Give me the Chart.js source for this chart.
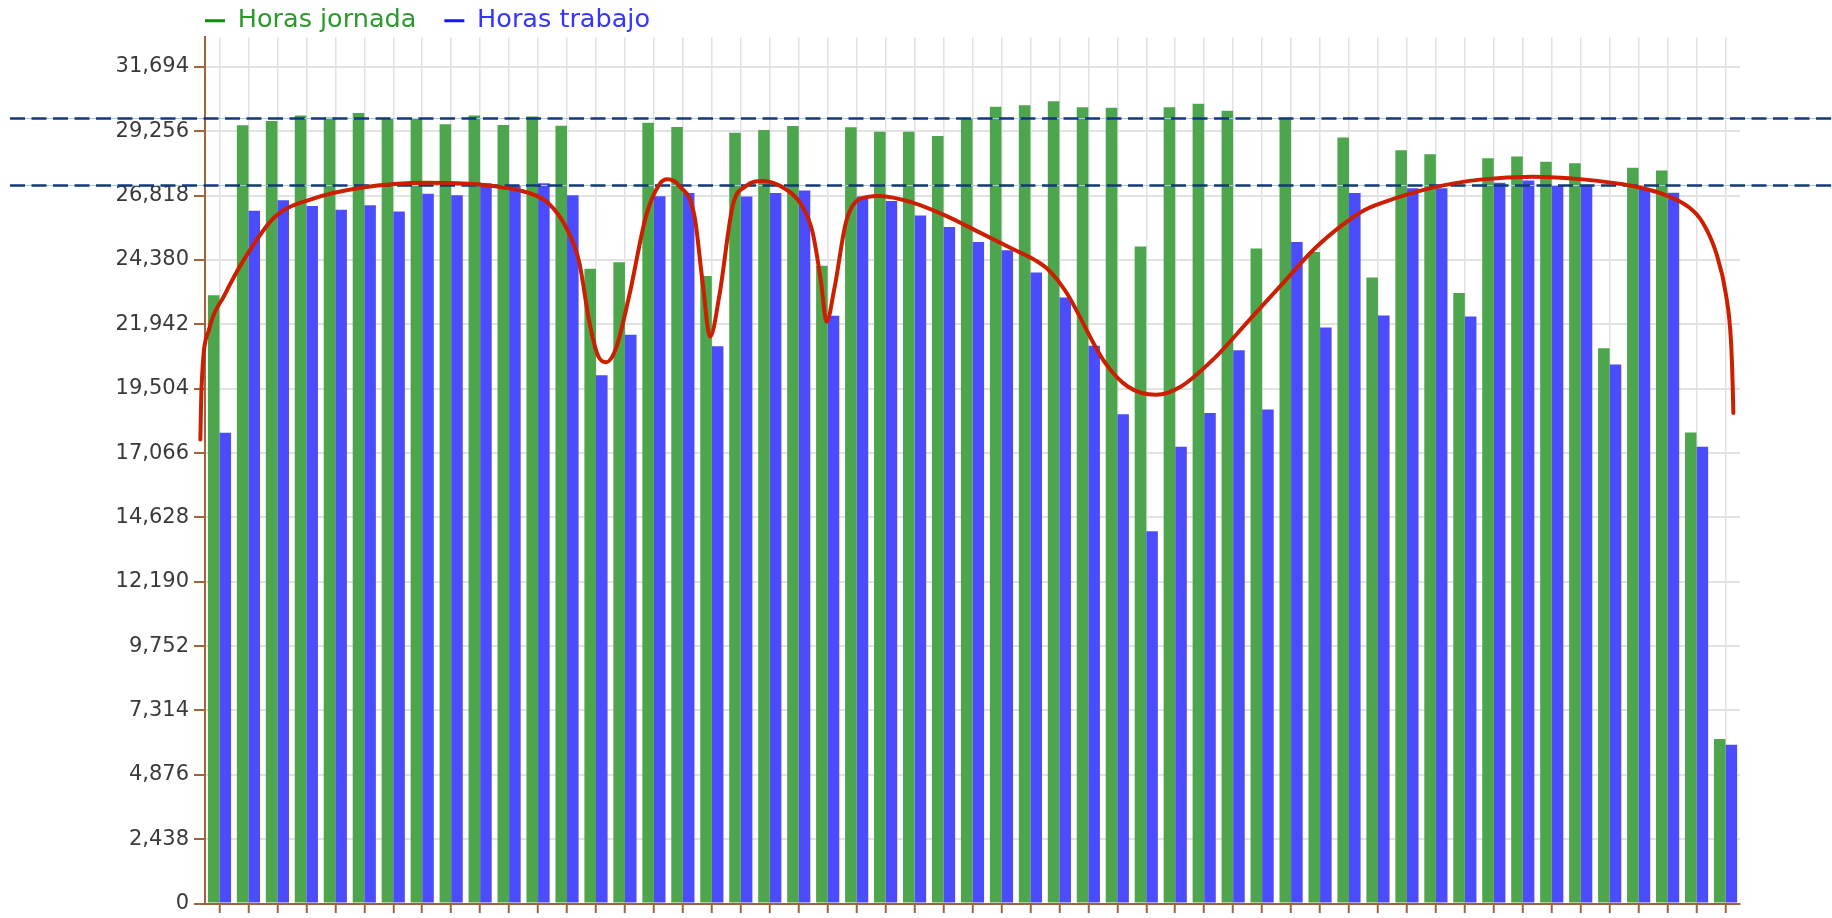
<!DOCTYPE html>
<html>
<head>
<meta charset="utf-8">
<title>Horas jornada / Horas trabajo</title>
<script src="https://cdn.jsdelivr.net/npm/chart.js@4/dist/chart.umd.min.js"></script>
<style>
  html, body { margin: 0; padding: 0; background: #ffffff; overflow: hidden; }
  #wrap { position: relative; width: 1832px; height: 918px; }
</style>
</head>
<body>
<div id="wrap"><canvas id="c"></canvas></div>
<script>
// ---- data ----
const categories = ['1','2','3','4','5','6','7','8','9','10','11','12','13','14','15','16','17','18','19','20',
  '21','22','23','24','25','26','27','28','29','30','31','32','33','34','35','36','37','38','39','40',
  '41','42','43','44','45','46','47','48','49','50','51','52','53'];

const horasJornada = [23042, 29482, 29645, 29859, 29783, 29946, 29720, 29733, 29520, 29859,
  29495, 29821, 29469, 24048, 24299, 29582, 29419, 23772, 29206, 29306,
  29457, 24161, 29407, 29243, 29243, 29080, 29733, 30185, 30247, 30398,
  30172, 30147, 24889, 30172, 30298, 30034, 24813, 29771, 24688, 29018,
  23721, 28541, 28390, 23132, 28239, 28302, 28101, 28051, 21036, 27876,
  27775, 17848, 6230];

const horasTrabajo = [17832, 26243, 26645, 26431, 26281, 26456, 26218, 26896, 26833, 27285,
  27222, 27285, 26833, 20019, 21550, 26796, 26922, 21111, 26784, 26922,
  27010, 22266, 26784, 26621, 26069, 25629, 25064, 24751, 23910, 22956,
  21136, 18538, 14108, 17308, 18589, 20960, 18714, 25064, 21826, 26922,
  22278, 27097, 27097, 22240, 27311, 27398, 27198, 27223, 20421, 27072,
  26934, 17308, 6020];

const yTicks = [0, 2438, 4876, 7314, 9752, 12190, 14628, 17066, 19504, 21942, 24380, 26818, 29256, 31694];
const yMax = 32830;

// dashed reference levels
const refLines = [29780, 27210];

// hand-drawn red trend curve (x in category index units, y in hours)
const trendX = [-0.66, -0.62, -0.35, 0.17, 0.86, 1.89, 3.16, 4.89, 7.19, 8.91,
  10.64, 11.33, 12.0, 12.42, 12.77, 13.06, 13.35, 13.69, 14.15, 14.73,
  15.19, 15.47, 15.88, 16.40, 16.68, 16.94, 17.26, 17.72, 18.18, 18.75,
  19.56, 20.08, 20.48, 20.77, 20.96, 21.23, 21.63, 22.09, 22.78, 23.93,
  25.09, 26.24, 27.39, 28.19, 28.65, 29.23, 30.55, 31.36, 32.34,
  33.20, 34.35, 35.50, 36.65, 37.80, 38.73, 39.54, 40.16, 41.89, 43.61,
  45.34, 47.07, 48.79, 49.95, 50.75, 51.21, 51.67, 52.02, 52.19, 52.25, 52.27];
const trendY = [17580, 19527, 21786, 23040, 24422, 25993, 26682, 27122, 27310, 27247,
  26933, 26557, 25552, 24300, 22039, 20782, 20506, 21033, 23040, 26054,
  27247, 27436, 27184, 26054, 23546, 21474, 23040, 26431, 27184, 27372,
  27059, 26494, 25428, 23546, 22039, 23293, 25805, 26682, 26807, 26557,
  26054, 25428, 24799, 24359, 23982, 23168, 20532, 19590, 19275,
  19590, 20656, 22039, 23417, 24799, 25676, 26280, 26557, 27122, 27436,
  27536, 27436, 27184, 26833, 26369, 25805, 24675, 23040, 21285, 19527, 18585];

// ---- styles ----
const BROWN = '#a0643c';
const GRID = '#e2e2e2';
const LEGEND_PAD = 28;

Chart.defaults.font.family = "'DejaVu Sans', Verdana, sans-serif";

const legendTweaks = {
  id: 'legendTweaks',
  beforeInit(chart) {
    const lg = chart.legend;
    const origFit = lg.fit;
    lg.fit = function () { origFit.call(this); this.height = 37; };
  },
  afterLayout(chart) {
    const lg = chart.legend;
    lg.left = chart.chartArea.left - LEGEND_PAD;
    lg.top = 8 - LEGEND_PAD;
  }
};

const refLinePlugin = {
  id: 'refLines',
  beforeDatasetDraw(chart, args) {
    if (args.index !== 2) return;
    const { ctx } = chart;
    const y = chart.scales.y;
    refLines.forEach(v => {
      const py = Math.round(y.getPixelForValue(v)) + 0.5;
      ctx.save();
      ctx.strokeStyle = '#a9c9ea';
      ctx.lineWidth = 1;
      ctx.beginPath();
      ctx.moveTo(10, py);
      ctx.lineTo(chart.width, py);
      ctx.stroke();
      ctx.strokeStyle = '#123a78';
      ctx.lineWidth = 2.5;
      ctx.setLineDash([15, 6.5]);
      ctx.beginPath();
      ctx.moveTo(10, py);
      ctx.lineTo(chart.width, py);
      ctx.stroke();
      ctx.restore();
    });
  }
};

const legendColors = [
  { fill: '#118c11', text: '#2a9a2a' },
  { fill: '#1414ff', text: '#3535ff' }
];

new Chart(document.getElementById('c'), {
  type: 'bar',
  data: {
    labels: categories,
    datasets: [
      {
        label: 'Horas jornada',
        data: horasJornada,
        backgroundColor: '#4da64d',
        borderWidth: 0,
        categoryPercentage: 0.8,
        barPercentage: 1.0,
        xAxisID: 'x',
        yAxisID: 'y'
      },
      {
        label: 'Horas trabajo',
        data: horasTrabajo,
        backgroundColor: '#4c4cff',
        borderWidth: 0,
        categoryPercentage: 0.8,
        barPercentage: 1.0,
        xAxisID: 'x',
        yAxisID: 'y'
      },
      {
        type: 'line',
        label: 'tendencia',
        parsing: false,
        data: trendX.map((x, i) => ({ x: x, y: trendY[i] })),
        xAxisID: 'x',
        yAxisID: 'y',
        borderColor: '#cc1f00',
        borderWidth: 4,
        borderCapStyle: 'round',
        borderJoinStyle: 'round',
        pointRadius: 0,
        fill: false,
        cubicInterpolationMode: 'monotone',
        clip: false,
        order: -1
      }
    ]
  },
  options: {
    responsive: true,
    maintainAspectRatio: false,
    animation: false,
    events: [],
    layout: { padding: { top: 0, right: 92, bottom: 0, left: 0 } },
    plugins: {
      tooltip: { enabled: false },
      title: { display: false },
      legend: {
        display: true,
        position: 'top',
        align: 'start',
        labels: {
          boxWidth: 20,
          boxHeight: 3,
          padding: LEGEND_PAD,
          font: { size: 25.5, family: "'DejaVu Sans', Verdana, sans-serif" },
          generateLabels: (chart) => chart.data.datasets.slice(0, 2).map((ds, i) => ({
            text: ds.label,
            fillStyle: legendColors[i].fill,
            strokeStyle: legendColors[i].fill,
            fontColor: legendColors[i].text,
            lineWidth: 0,
            hidden: false,
            datasetIndex: i
          }))
        }
      }
    },
    scales: {
      x: {
        type: 'category',
        position: 'bottom',
        offset: true,
        grid: {
          offset: false,
          color: GRID,
          lineWidth: 1.5,
          drawTicks: true,
          tickLength: 9.5,
          tickColor: BROWN,
          tickWidth: 2
        },
        border: { display: true, color: BROWN, width: 2 },
        ticks: { display: false }
      },
      y: {
        type: 'linear',
        position: 'left',
        min: 0,
        max: yMax,
        afterBuildTicks: (scale) => { scale.ticks = yTicks.map(v => ({ value: v })); },
        afterFit: (scale) => { scale.width = 205; },
        grid: {
          color: GRID,
          lineWidth: 2,
          drawTicks: true,
          tickLength: 11,
          tickColor: BROWN,
          tickWidth: 2
        },
        border: { display: true, color: BROWN, width: 2 },
        ticks: {
          padding: 5,
          color: '#3a3a3a',
          font: { size: 21, lineHeight: 0.9 },
          callback: (v) => Number(v).toLocaleString('en-US')
        }
      }
    }
  },
  plugins: [legendTweaks, refLinePlugin]
});
</script>
</body>
</html>
